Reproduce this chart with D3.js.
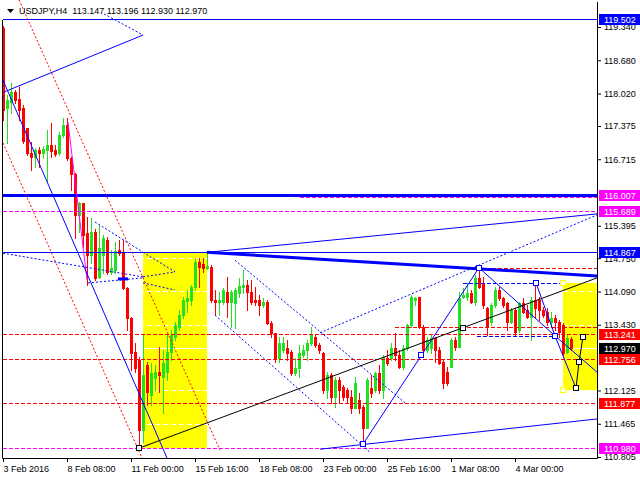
<!DOCTYPE html>
<html><head><meta charset="utf-8">
<script src="https://cdn.jsdelivr.net/npm/d3@7"></script>
<style>
body{margin:0;background:#fff}
svg{display:block}
text{font-family:"Liberation Sans",Arial,sans-serif;font-size:9px}
</style></head><body>
<script>
// ---- data (USDJPY H4 candles) ----
const open=[119.32,117.73,117.85,118.05,117.91,117.73,117.34,116.84,116.76,116.90,
116.84,116.90,117.00,116.90,116.84,117.20,117.39,116.74,116.42,115.61,
115.85,115.25,114.81,115.27,114.38,114.81,115.11,114.48,114.52,114.91,
114.85,114.16,113.56,112.89,112.73,111.34,112.63,112.04,112.37,112.49,
112.39,112.49,112.89,113.19,113.38,113.62,113.90,113.92,114.18,114.68,
114.64,114.56,114.58,113.92,113.88,113.88,114.08,113.88,113.86,114.06,
114.18,114.22,114.08,113.92,113.92,113.82,113.88,113.46,113.27,112.77,
112.93,112.97,112.89,112.47,112.57,112.83,112.93,113.07,113.19,113.03,
112.87,112.13,112.43,112.00,112.33,112.19,112.13,112.00,111.78,111.94,
111.80,111.38,112.17,112.13,112.47,112.13,112.77,112.77,112.97,112.83,
112.59,112.97,113.42,113.92,113.98,113.38,112.93,112.97,113.17,112.93,
112.69,112.49,112.59,113.13,112.99,113.98,113.98,114.06,113.88,114.36,
114.26,113.76,113.48,113.82,114.12,113.96,113.86,113.48,113.72,113.33,
113.86,113.72,113.58,113.92,113.92,113.72,113.68,113.48,113.56,113.48,
113.42,112.89,113.147];
const high=[119.36,117.99,118.23,118.09,118.15,117.79,117.34,117.06,116.94,116.96,
116.98,117.30,117.43,117.00,117.26,117.53,117.53,116.76,116.44,115.87,
115.85,115.57,115.55,115.33,115.41,115.21,115.17,114.91,115.07,115.11,
115.11,114.18,113.58,113.07,112.79,113.23,112.69,112.67,112.63,112.99,
112.93,113.23,113.33,113.48,113.72,113.98,114.12,114.22,114.75,114.75,
114.75,114.867,114.62,114.12,114.08,114.16,114.38,114.12,114.16,114.36,
114.52,114.32,114.32,114.18,114.02,113.96,113.92,113.50,113.27,113.19,
113.19,113.13,112.93,112.77,113.03,113.03,113.13,113.38,113.23,113.07,
112.89,112.49,112.47,112.39,112.39,112.23,112.17,112.13,112.39,112.08,
111.84,112.37,112.43,112.49,112.63,112.83,112.93,113.07,113.27,112.93,
113.03,113.44,114.02,113.98,113.98,113.42,113.19,113.23,113.19,112.99,
112.73,112.59,113.17,113.19,114.08,114.16,114.26,114.12,114.42,114.556,
114.38,113.78,113.86,114.18,114.18,113.98,113.88,113.76,113.76,113.88,
113.96,113.82,113.98,114.26,113.98,113.78,113.76,113.68,113.62,113.52,
113.46,113.23,113.196];
const low=[117.49,117.04,117.63,117.83,117.49,117.04,116.80,116.50,116.56,116.56,
116.74,116.26,116.76,116.78,116.80,117.16,116.70,116.10,115.15,115.27,
114.97,114.22,114.66,114.32,114.36,114.46,114.44,114.44,114.46,114.81,
114.14,113.33,112.53,112.49,110.98,111.10,111.84,111.84,112.13,112.09,
111.68,112.33,112.73,113.13,113.33,113.56,113.68,113.82,114.12,114.18,
114.48,114.54,113.88,113.62,113.62,113.84,113.58,113.38,113.37,113.98,
114.06,113.72,113.84,113.82,113.62,113.78,113.44,113.19,112.69,112.69,
112.89,112.73,112.43,112.43,112.39,112.79,112.73,113.03,112.99,112.87,
112.08,111.98,111.88,111.80,111.88,111.94,111.90,111.68,111.78,111.68,
111.06,111.38,112.00,112.09,112.08,111.98,112.63,112.73,112.73,112.57,
112.55,112.93,113.38,113.82,113.37,112.87,112.89,112.87,112.69,112.65,
112.17,112.23,112.59,112.93,112.99,113.96,113.92,113.86,113.82,114.16,
113.76,113.23,113.42,113.78,113.92,113.78,113.33,113.46,113.23,113.29,
113.66,113.56,113.13,113.58,113.52,113.58,113.42,113.38,113.33,113.19,
112.83,112.87,112.930];
const close=[117.69,117.89,118.05,117.89,117.69,117.08,116.84,116.76,116.90,116.84,
116.92,117.00,116.88,116.82,117.20,117.39,116.74,116.42,115.61,115.85,
115.21,114.81,115.27,114.36,114.95,115.15,114.48,114.56,114.89,114.85,
114.16,113.56,112.87,112.57,111.34,112.43,112.09,112.47,112.49,112.43,
112.67,112.89,113.23,113.42,113.62,113.92,113.96,114.18,114.68,114.58,
114.56,114.60,113.92,113.88,113.92,114.12,113.88,114.08,114.12,114.20,
114.22,114.08,113.88,113.88,113.82,113.88,113.46,113.27,112.77,113.07,
113.07,112.87,112.47,112.57,112.87,112.93,113.07,113.23,113.03,112.93,
112.13,112.43,112.00,112.33,112.13,112.00,112.00,111.78,112.27,111.78,
111.38,112.33,112.08,112.47,112.13,112.79,112.67,112.97,112.83,112.59,
112.97,113.42,113.98,113.96,113.38,112.93,113.13,113.17,112.93,112.67,
112.27,112.27,113.13,112.99,113.96,114.02,114.06,113.88,114.36,114.18,
113.82,113.38,113.82,114.12,113.96,113.82,113.48,113.72,113.29,113.86,
113.68,113.58,113.92,113.76,113.72,113.62,113.48,113.56,113.48,113.29,
112.87,113.17,112.970];

const xTickBars=[0,16,32,48,64,80,96,112,128];
const xTickLabels=["3 Feb 2016","8 Feb 08:00","11 Feb 00:00","15 Feb 16:00","18 Feb 08:00","23 Feb 00:00","25 Feb 16:00","1 Mar 08:00","4 Mar 00:00"];
const yTickValues=[119.340,118.680,118.020,117.375,116.715,115.395,114.750,114.090,113.430,112.125,111.465,110.805];

const symbol="USDJPY,H4";
const lastOHLC=[113.147,113.196,112.930,112.970];
const bidPrice=112.970;

// horizontal level prices
const blueLevels=[119.502,114.867];
const thickBlueLevels=[116.007];
const magentaLevels=[115.689,110.980];
const redLevels=[113.241,112.756,111.877];
// partial levels: [fromBar, toBar, price]
const redPartial=[[119.25,148.5,114.55],[98,148.5,113.38]];
const bluePartial=[[115,140,114.26],[118.5,138,113.21]];
const magentaPartial=[[74.25,148.5,116.007]];
// rectangles [bar1, price1, bar2, price2]
const yellowBoxes=[[35,114.867,51,110.98],[140,114.26,148.5,112.13]];
// trend lines [bar1, price1, bar2, price2]
const redDotted=[[4,119.88,54.25,110.94],[0,117.04,35,110.74]];
const magentaSolid=[[16.25,117.45,21,114.32]];
const blueSolid=[[0.25,118.05,35,119.18],[-0.25,118.33,41.25,110.74],[51,114.867,148.5,115.63],
 [79.25,110.96,148.5,111.56],[90,111.06,119,114.56],[119,114.56,138,113.21],[133.25,114.26,138,113.21],
 [138,113.21,143.25,112.17],[138,113.21,148.5,112.49]];
const blueThick=[[51,114.867,148.5,114.40],[28.75,114.34,31.25,114.34]];
const blueDotted=[[25.25,119.60,35,119.18],[0,114.85,35,114.38],[21.25,114.26,35,114.36],[35,114.87,43,114.48],
 [35,114.38,43,114.48],[35,114.26,43,114.12],[23,115.47,35,114.87],[58,114.71,100.5,111.88],
 [53,113.62,91.75,110.90],[79.25,113.27,148.5,115.61]];
const blackSolid=[[34,110.98,148.5,114.36],[143.25,112.17,144,112.69],[144,112.69,145,113.19]];
// anchor squares [bar, price]
const blackSquares=[[34,110.98],[115,113.37],[143.25,112.17],[144,112.69],[145,113.19]];
const blueSquares=[[90,111.06],[104.5,112.83],[119,114.56],[133.25,114.26],[138,113.21]];
const yellowSquares=[[140,114.26],[140,112.13]];
// axis price labels
const labelPrices=[119.502,116.007,115.689,114.867,113.241,112.970,112.756,111.877,110.980];

// ---- styles ----
const BULL="#22e022", BEAR="#ff0000", BLUE="#0000ff", MAG="#ff00ff", RED="#ff0000";
const labelColors=[BLUE,MAG,MAG,BLUE,RED,"#000000",RED,RED,MAG];

const W=640,H=480;
const svg=d3.select("body").append("svg").attr("width",W).attr("height",H);
svg.append("rect").attr("width",W).attr("height",H).attr("fill","#fff");

const x=d3.scaleLinear().domain([0,148.5]).range([3,597]);
const y=d3.scaleLinear().domain([110.805,119.34]).range([457,27]);
const cy=p=>Math.round(y(p))+0.5;

svg.append("clipPath").attr("id","clip").append("rect").attr("x",3).attr("y",0).attr("width",594).attr("height",458);
const g=svg.append("g").attr("clip-path","url(#clip)");

// yellow rectangles (background)
g.selectAll(".ybox").data(yellowBoxes).join("rect")
 .attr("x",d=>x(d[0])).attr("y",d=>y(d[1])).attr("width",d=>x(d[2])-x(d[0])).attr("height",d=>y(d[3])-y(d[1]))
 .attr("fill","#ffff00");

// white grid (visible on yellow only)
g.selectAll(".grid").data(yTickValues).join("line")
 .attr("x1",3).attr("x2",597).attr("y1",d=>cy(d)).attr("y2",d=>cy(d))
 .attr("stroke","#fff").attr("stroke-dasharray","5,3");
// bid line
g.append("line").attr("x1",3).attr("x2",597).attr("y1",cy(bidPrice)).attr("y2",cy(bidPrice)).attr("stroke","#fff");

// candles
const idx=d3.range(open.length);
const cg=g.append("g");
cg.selectAll(".wick").data(idx).join("rect")
 .attr("x",i=>Math.round(x(i))).attr("width",1)
 .attr("y",i=>Math.round(y(high[i]))).attr("height",i=>Math.max(1,Math.round(y(low[i]))-Math.round(y(high[i]))+1))
 .attr("fill",i=>close[i]>=open[i]?BULL:BEAR);
cg.selectAll(".body").data(idx).join("rect")
 .attr("x",i=>Math.round(x(i))-1).attr("width",3)
 .attr("y",i=>Math.round(y(Math.max(open[i],close[i]))))
 .attr("height",i=>Math.max(1,Math.round(y(Math.min(open[i],close[i])))-Math.round(y(Math.max(open[i],close[i])))+1))
 .attr("fill",i=>close[i]>=open[i]?BULL:BEAR);

// horizontal levels
function hline(x1,x2,p,color,w,dash,off){
  const yy=(w%2===1?cy(p):Math.round(y(p)))+(off||0);
  const l=g.append("line").attr("x1",x1).attr("x2",x2).attr("y1",yy).attr("y2",yy).attr("stroke",color).attr("stroke-width",w);
  if(dash) l.attr("stroke-dasharray",dash);
}
magentaLevels.forEach(p=>hline(3,597,p,MAG,1,"4,2"));
redLevels.forEach(p=>hline(3,597,p,RED,1,"4,2"));
redPartial.forEach(d=>hline(x(d[0]),x(d[1]),d[2],RED,1,"4,2"));
bluePartial.forEach(d=>hline(x(d[0]),x(d[1]),d[2],BLUE,1,"4,2"));
magentaPartial.forEach(d=>hline(x(d[0]),x(d[1]),d[2],MAG,1,"4,2",2));
blueLevels.forEach(p=>hline(3,597,p,BLUE,1,null));
thickBlueLevels.forEach(p=>hline(3,597,p,BLUE,3,null));

// trend lines
function tl(data,color,w,dash){
  g.selectAll(null).data(data).join("line")
   .attr("x1",d=>x(d[0])).attr("y1",d=>y(d[1])).attr("x2",d=>x(d[2])).attr("y2",d=>y(d[3]))
   .attr("stroke",color).attr("stroke-width",w).attr("stroke-dasharray",dash||null);
}
tl(redDotted,RED,1,"2,2");
tl(magentaSolid,MAG,1);
tl(blueDotted,BLUE,1,"2,2");
tl(blueSolid,BLUE,1);
tl(blueThick,BLUE,3);
tl(blackSolid,"#000",1);

function squares(data,color){
  g.selectAll(null).data(data).join("rect")
   .attr("x",d=>Math.round(x(d[0]))-2.5).attr("y",d=>Math.round(y(d[1]))-2.5).attr("width",5).attr("height",5)
   .attr("fill","#fff").attr("stroke",color);
}
squares(blueSquares,BLUE);
squares(blackSquares,"#000");
squares(yellowSquares,"#ffff00");

// axes
const ya=svg.append("g").attr("transform","translate(597,0)")
 .call(d3.axisRight(y).tickValues(yTickValues).tickSize(4).tickPadding(3).tickFormat(d3.format(".3f")));
ya.select(".domain").remove();
ya.selectAll("text").attr("fill","#000").style("font-size","9px");
const xa=svg.append("g").attr("transform","translate(0,458)")
 .call(d3.axisBottom(x).tickValues(xTickBars).tickSize(4).tickPadding(4).tickFormat((d,i)=>xTickLabels[i]));
xa.select(".domain").remove();
xa.selectAll("text").attr("text-anchor","start").attr("fill","#000").style("font-size","9px");

// frame
svg.append("path").attr("d","M2.5,20V458.5H597.5V2").attr("fill","none").attr("stroke","#000");

// price labels
const lab=svg.append("g");
labelPrices.forEach((p,k)=>{
  const yy=Math.round(y(p));
  lab.append("rect").attr("x",599).attr("y",yy-5).attr("width",41).attr("height",11).attr("fill",labelColors[k]);
  lab.append("text").attr("x",604).attr("y",yy+4).attr("fill","#fff").text(d3.format(".3f")(p));
});

// header
svg.append("path").attr("d","M7,9H14L10.5,13Z").attr("fill","#000");
svg.append("text").attr("x",19).attr("y",14).style("white-space","pre").attr("fill","#000")
 .text(symbol+"  "+lastOHLC.map(d3.format(".3f")).join(" "));
</script>
</body></html>
